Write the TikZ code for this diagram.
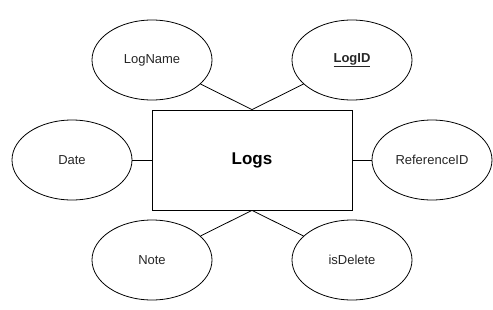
\documentclass[tikz,border=0pt]{standalone}
\usepackage{fontspec}
\setmainfont{Liberation Sans}
\usetikzlibrary{shapes.geometric}

\tikzset{
  entity/.style={draw, line width=0.8pt, minimum width=200pt, minimum height=100pt,
    inner sep=0pt, font=\fontsize{17}{19}\selectfont\bfseries},
  attr/.style={draw, ellipse, line width=0.8pt, minimum width=120pt, minimum height=80pt,
    inner sep=0pt, font=\fontsize{13}{15}\selectfont, text=black!85},
}

\begin{document}
\begin{tikzpicture}[x=1pt, y=1pt]
      \useasboundingbox (0,0) rectangle (493,309);
      \node[entity] (logs) at (252,149) {Logs};
      \draw
        (152,249) node[attr] (logname){LogName}
        (352,249) node[attr] (logid){\underline{\textbf{LogID}}}
        (72,149) node[attr] (date){Date}
        (432,149) node[attr] (refid){ReferenceID}
        (152,49) node[attr] (note){Note}
        (352,49) node[attr] (isdelete){isDelete};
      \begin{scope}[line width=0.8pt]
        \draw (logname) to (logs.north);
        \draw (logid) to (logs.north);
        \draw (date) to (logs);
        \draw (refid) to (logs);
        \draw (note) to (logs.south);
        \draw (isdelete) to (logs.south);
      \end{scope}
    \end{tikzpicture}
\end{document}
